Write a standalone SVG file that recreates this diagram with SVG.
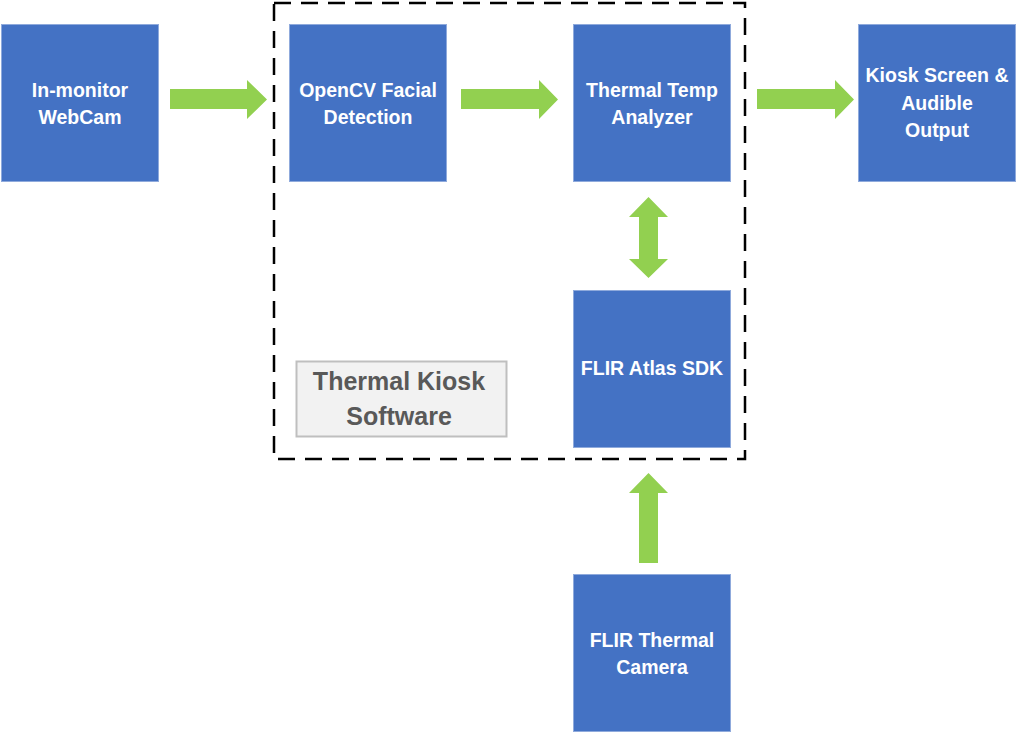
<svg xmlns="http://www.w3.org/2000/svg" width="1026" height="733" viewBox="0 0 1026 733">
<style>
.node rect{fill:#4472C4;stroke:#8FAADC;stroke-width:1}
.node text{fill:#FFFFFF;font-family:"Liberation Sans",Arial,sans-serif;font-weight:bold;font-size:19.5px;text-anchor:middle}
.arrow{fill:#92D050;stroke:none}
.lbl text{fill:#595959;font-family:"Liberation Sans",Arial,sans-serif;font-weight:bold;font-size:25px;text-anchor:middle}
</style>
<rect width="1026" height="733" fill="#FFFFFF"/>
<g id="boundary">
<rect x="274" y="3" width="471" height="456" fill="none" stroke="#000000" stroke-width="2.5" stroke-dasharray="17,10"/>
</g>
<g id="label-thermal-kiosk-software" class="lbl">
<rect x="296.5" y="361.5" width="210" height="75" fill="#F2F2F2" stroke="#BFBFBF" stroke-width="2"/>
<text x="399" y="390">Thermal Kiosk</text>
<text x="399" y="425">Software</text>
</g>
<g id="webcam" class="node">
<rect x="1.5" y="24.5" width="157" height="157"/>
<text x="80" y="97">In-monitor</text>
<text x="80" y="124">WebCam</text>
</g>
<g id="opencv" class="node">
<rect x="289.5" y="24.5" width="157" height="157"/>
<text x="368" y="97">OpenCV Facial</text>
<text x="368" y="124">Detection</text>
</g>
<g id="thermal-temp" class="node">
<rect x="573.5" y="24.5" width="157" height="157"/>
<text x="652" y="97">Thermal Temp</text>
<text x="652" y="124">Analyzer</text>
</g>
<g id="kiosk-output" class="node">
<rect x="858.5" y="24.5" width="157" height="157"/>
<text x="937" y="82">Kiosk Screen &amp;</text>
<text x="937" y="110">Audible</text>
<text x="937" y="137">Output</text>
</g>
<g id="flir-sdk" class="node">
<rect x="573.5" y="290.5" width="157" height="157"/>
<text x="652" y="375">FLIR Atlas SDK</text>
</g>
<g id="flir-camera" class="node">
<rect x="573.5" y="574.5" width="157" height="157"/>
<text x="652" y="647">FLIR Thermal</text>
<text x="652" y="674">Camera</text>
</g>
<g id="connectors">
<polygon class="arrow" points="170,89 247,89 247,80 267,99.5 247,119 247,109 170,109"/>
<polygon class="arrow" points="461,89 539,89 539,80 558,99.5 539,119 539,109 461,109"/>
<polygon class="arrow" points="757,89 835,89 835,80 854,99.5 835,119 835,109 757,109"/>
<polygon class="arrow" points="648.5,197 668,217 658,217 658,259 668,259 648.5,278 629,259 639,259 639,217 629,217"/>
<polygon class="arrow" points="648.5,473 668,493 658,493 658,563 639,563 639,493 629,493"/>
</g>
</svg>
